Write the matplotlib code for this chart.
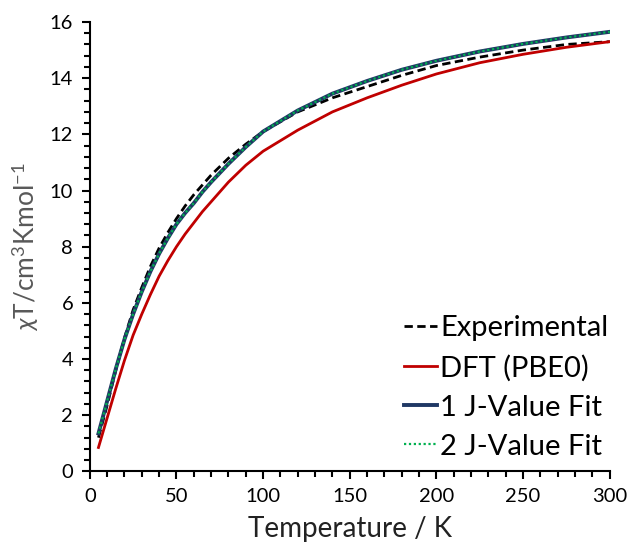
import matplotlib
matplotlib.use("Agg")
import matplotlib.pyplot as plt
from matplotlib.ticker import MultipleLocator

plt.rcParams['font.family'] = ['Lato', 'DejaVu Sans']
plt.rcParams['mathtext.fontset'] = 'custom'
plt.rcParams['mathtext.rm'] = 'Lato'
plt.rcParams['mathtext.it'] = 'Lato:italic'

# temperatures (K)
temps = [5, 10, 15, 20, 25, 30, 35, 40, 45, 50, 55, 60, 65, 70, 80, 90, 100, 120, 140, 160, 180,
         200, 225, 250, 275, 300]

# chi*T values
experimental = [1.2, 2.35, 3.6, 4.75, 5.75, 6.55, 7.3, 7.95, 8.5, 9.0, 9.45, 9.85, 10.2, 10.55,
                11.15, 11.65, 12.1, 12.8, 13.3, 13.7, 14.1, 14.45, 14.75, 15.0, 15.2, 15.3]
dft_pbe0 = [0.85, 1.9, 2.95, 3.95, 4.85, 5.6, 6.3, 6.95, 7.5, 8.0, 8.45, 8.85, 9.25, 9.6,
            10.3, 10.9, 11.4, 12.15, 12.8, 13.3, 13.75, 14.15, 14.55, 14.85, 15.1, 15.3]
fit_1j = [1.35, 2.5, 3.65, 4.7, 5.6, 6.4, 7.12, 7.75, 8.3, 8.8, 9.2, 9.55, 9.95, 10.3,
          10.95, 11.55, 12.1, 12.85, 13.45, 13.9, 14.3, 14.62, 14.95, 15.22, 15.45, 15.65]
fit_2j = [1.35, 2.5, 3.65, 4.7, 5.6, 6.4, 7.12, 7.75, 8.3, 8.8, 9.2, 9.55, 9.95, 10.3,
          10.95, 11.55, 12.1, 12.85, 13.45, 13.9, 14.3, 14.62, 14.95, 15.22, 15.45, 15.65]

fig = plt.figure(figsize=(6.28, 5.5), dpi=100)
ax = fig.add_axes([0.143, 0.143, 0.828, 0.817])

ax.plot(temps, experimental, color='black', ls=(0, (3, 1.6)), lw=2.0, label='Experimental')
ax.plot(temps, dft_pbe0, color='#C00000', lw=2.0, label='DFT (PBE0)')
ax.plot(temps, fit_1j, color='#1F3864', lw=2.8, label='1 J-Value Fit')
ax.plot(temps, fit_2j, color='#00B050', ls=(0, (1, 1.2)), lw=1.6, label='2 J-Value Fit')

ax.set_xlim(0, 300)
ax.set_ylim(0, 16)
ax.xaxis.set_major_locator(MultipleLocator(50))
ax.xaxis.set_minor_locator(MultipleLocator(10))
ax.yaxis.set_major_locator(MultipleLocator(2))
ax.yaxis.set_minor_locator(MultipleLocator(0.4))

for s in ['top', 'right']:
    ax.spines[s].set_visible(False)
for s in ['left', 'bottom']:
    ax.spines[s].set_linewidth(1.5)

ax.tick_params(which='major', direction='out', length=6, width=1.5, labelsize=14.5, pad=6)
ax.tick_params(which='minor', direction='out', length=4, width=1.5)

ax.set_xlabel('Temperature / K', fontsize=20, color='#222222', labelpad=8)
ax.set_ylabel(r'$\chi$T/cm$^{3}$Kmol$^{-1}$', fontsize=19, color='#595959', labelpad=6)

leg = ax.legend(loc='lower right', bbox_to_anchor=(1.02, 0.0), frameon=False, fontsize=21,
                handlelength=1.15, handletextpad=0.1, labelspacing=0.45, borderaxespad=0)

fig.savefig('out.png', dpi=100)
